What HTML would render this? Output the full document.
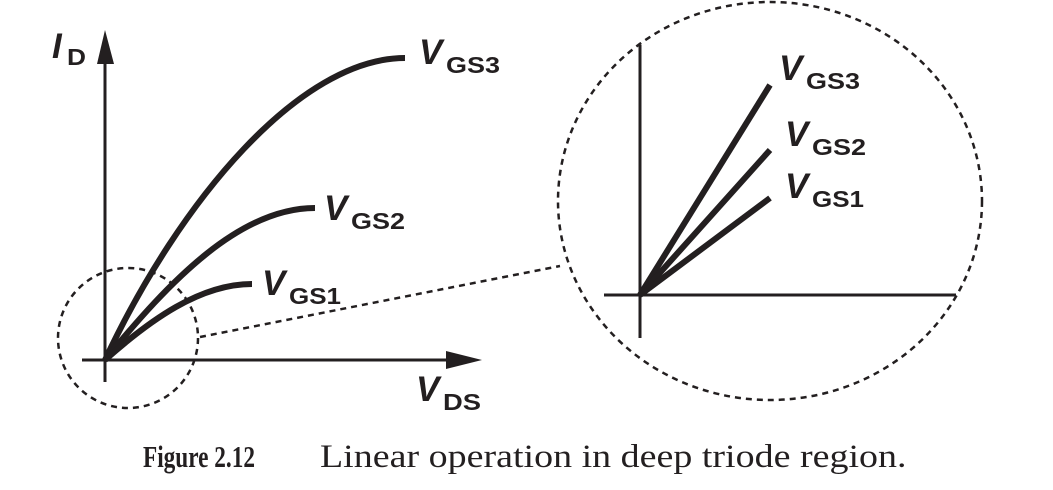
<!DOCTYPE html>
<html><head><meta charset="utf-8"><style>
html,body{margin:0;padding:0;background:#fff;}
svg{display:block;}
.v{font-family:"Liberation Sans",sans-serif;font-weight:bold;font-style:italic;font-size:35px;fill:#231f20;}
.s{font-family:"Liberation Sans",sans-serif;font-weight:bold;font-size:23px;fill:#231f20;}
</style></head><body>
<svg width="1053" height="490" viewBox="0 0 1053 490" xmlns="http://www.w3.org/2000/svg">
<g stroke="#231f20" fill="none">
<line x1="105" y1="60" x2="105" y2="382" stroke-width="3"/>
<line x1="82" y1="360" x2="450" y2="360" stroke-width="3"/>
<path d="M105,360 C180,200 300,58 405,58" stroke-width="6"/>
<path d="M105,360 C170,280 240,208 315,208" stroke-width="6"/>
<path d="M105,360 C150,320 200,284 252,284" stroke-width="6"/>
<circle cx="128" cy="338" r="70" stroke-width="2.5" stroke-dasharray="6,5"/>
<line x1="200" y1="337" x2="560" y2="266" stroke-width="2.5" stroke-dasharray="6,5"/>
<ellipse cx="770" cy="201" rx="212" ry="199" stroke-width="2.5" stroke-dasharray="6,5"/>
<line x1="640" y1="45" x2="640" y2="338" stroke-width="3"/>
<line x1="604" y1="295" x2="956" y2="295" stroke-width="3"/>
<line x1="640" y1="295" x2="770" y2="85" stroke-width="6"/>
<line x1="640" y1="295" x2="770" y2="150" stroke-width="6"/>
<line x1="640" y1="295" x2="770" y2="198" stroke-width="6"/>
</g>
<polygon points="105,30 97,64 114,64" fill="#231f20"/>
<polygon points="482,360 446,351 446,369" fill="#231f20"/>
<text x="52" y="58" class="v">I</text><text x="67" y="65" class="s" textLength="19" lengthAdjust="spacingAndGlyphs">D</text>
<text x="419" y="64" class="v">V</text><text x="446" y="73" class="s" textLength="54" lengthAdjust="spacingAndGlyphs">GS3</text>
<text x="324" y="220" class="v">V</text><text x="351" y="229" class="s" textLength="54" lengthAdjust="spacingAndGlyphs">GS2</text>
<text x="262" y="295" class="v">V</text><text x="289" y="304" class="s" textLength="52" lengthAdjust="spacingAndGlyphs">GS1</text>
<text x="416" y="401" class="v">V</text><text x="443" y="410" class="s" textLength="38" lengthAdjust="spacingAndGlyphs">DS</text>
<text x="779" y="80" class="v">V</text><text x="806" y="89" class="s" textLength="54" lengthAdjust="spacingAndGlyphs">GS3</text>
<text x="785" y="146" class="v">V</text><text x="812" y="155" class="s" textLength="54" lengthAdjust="spacingAndGlyphs">GS2</text>
<text x="785" y="198" class="v">V</text><text x="812" y="207" class="s" textLength="52" lengthAdjust="spacingAndGlyphs">GS1</text>
<text x="143" y="467" font-family="Liberation Serif,serif" font-weight="bold" font-size="31" fill="#231f20" textLength="112" lengthAdjust="spacingAndGlyphs">Figure 2.12</text>
<g transform="translate(320,467) scale(1.15,1)">
<text x="0" y="0" font-family="Liberation Serif,serif" font-size="33" fill="#231f20" textLength="510">Linear operation in deep triode region.</text>
</g>
</svg>
</body></html>
